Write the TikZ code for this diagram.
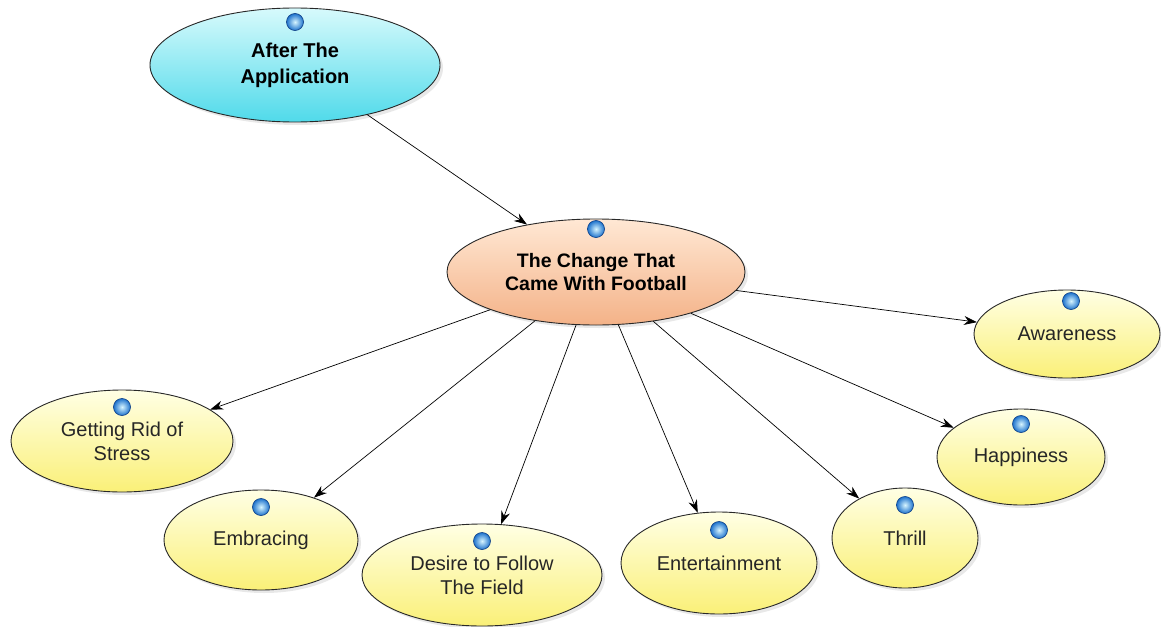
\documentclass[tikz,border=0pt]{standalone}
\usepackage{fontspec}
\setmainfont{Liberation Sans}
\usetikzlibrary{shapes.geometric,arrows.meta,shadows}
\definecolor{cyanTop}{RGB}{215,250,252}
\definecolor{cyanBot}{RGB}{80,218,234}
\definecolor{peachTop}{RGB}{255,232,212}
\definecolor{peachBot}{RGB}{244,178,136}
\definecolor{yelTop}{RGB}{255,255,228}
\definecolor{yelBot}{RGB}{250,240,120}
\definecolor{edgeGray}{RGB}{40,40,40}
\definecolor{knobIn}{RGB}{215,245,255}
\definecolor{knobOut}{RGB}{30,115,205}
\definecolor{knobEdge}{RGB}{20,70,140}
\tikzset{
  bubble/.style={ellipse, draw=edgeGray, line width=0.9pt, inner sep=0pt,
    align=center, font=\fontsize{20}{24}\selectfont, text=black!85,
    drop shadow={opacity=0.18, shadow xshift=3pt, shadow yshift=-3pt}},
  rootbubble/.style={bubble, top color=cyanTop, bottom color=cyanBot, font=\bfseries\fontsize{20}{26}\selectfont, text=black},
  hubbubble/.style={bubble, top color=peachTop, bottom color=peachBot, font=\bfseries\fontsize{19.5}{23}\selectfont, text=black},
  leafbubble/.style={bubble, top color=yelTop, bottom color=yelBot},
  knob/.style={circle, minimum size=17pt, inner sep=0pt, draw=knobEdge, line width=0.7pt,
    inner color=knobIn, outer color=knobOut},
  link/.style={draw=black, line width=0.7pt, -{Stealth[length=13pt,width=9pt]}}
}
\begin{document}
\begin{tikzpicture}[x=1pt,y=-1pt]
\fill[white] (0,0) rectangle (1161,626);
\useasboundingbox (0,0) rectangle (1161,626);

% bubbles
\node[rootbubble, minimum width=290pt, minimum height=114pt] (root) at (295,65) {After The\\Application};
\node[hubbubble, minimum width=298pt, minimum height=106pt] (hub) at (596,272) {The Change That\\Came With Football};
\node[leafbubble, minimum width=186pt, minimum height=88pt] (aware) at (1067,334) {Awareness};
\node[leafbubble, minimum width=168pt, minimum height=96pt] (happy) at (1021,457) {Happiness};
\node[leafbubble, minimum width=146pt, minimum height=100pt] (thrill) at (905,538) {Thrill};
\node[leafbubble, minimum width=196pt, minimum height=102pt] (enter) at (719,563) {Entertainment};
\node[leafbubble, minimum width=240pt, minimum height=102pt] (desire) at (482,575) {Desire to Follow\\The Field};
\node[leafbubble, minimum width=194pt, minimum height=100pt] (embrace) at (261,540) {Embracing};
\node[leafbubble, minimum width=222pt, minimum height=102pt] (stress) at (122,441) {Getting Rid of\\Stress};

% round markers near the top of each bubble
\node[knob] (rootK) at (295,22) {};
\node[knob] (hubK) at (596,229) {};
\node[knob] (awareK) at (1071,301) {};
\node[knob] (happyK) at (1021,424) {};
\node[knob] (thrillK) at (905,505) {};
\node[knob] (enterK) at (719,530) {};
\node[knob] (desireK) at (482,541) {};
\node[knob] (embraceK) at (261,507) {};
\node[knob] (stressK) at (122,407) {};

% connectors
\draw[link] (root) -- (hub);
\draw[link] (hub) -- (aware);
\draw[link] (hub) -- (happy);
\draw[link] (hub) -- (thrill);
\draw[link] (hub) -- (enter);
\draw[link] (hub) -- (desire);
\draw[link] (hub) -- (embrace);
\draw[link] (hub) -- (stress);
\end{tikzpicture}
\end{document}
